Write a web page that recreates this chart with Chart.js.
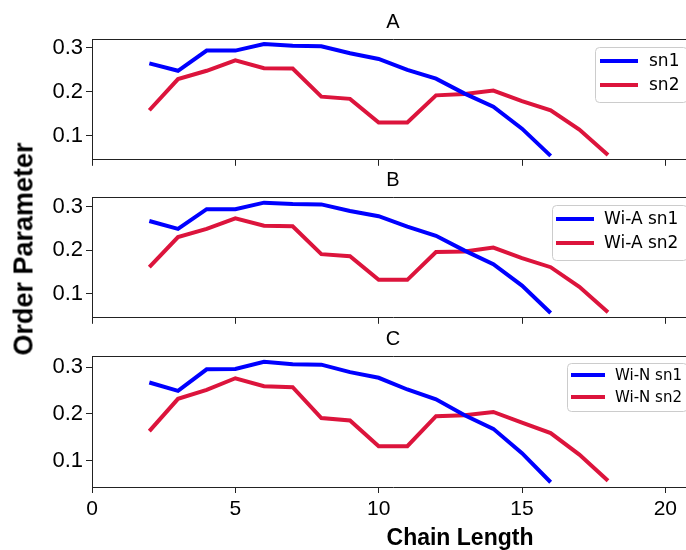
<!DOCTYPE html>
<html>
<head>
<meta charset="utf-8">
<script src="https://cdn.jsdelivr.net/npm/chart.js@4.4.1/dist/chart.umd.min.js"></script>
<style>
html, body { margin: 0; padding: 0; background: #fff; }
#fig { position: relative; width: 686px; height: 550px; overflow: hidden; background: #fff; }
#fig canvas { position: absolute; left: 0; }
.lab { position: absolute; font-family: "Liberation Sans", Arial, sans-serif; font-weight: bold;
       line-height: 1; white-space: nowrap; color: #000; }
</style>
</head>
<body>
<div id="fig">
  <canvas id="panel-a" width="700" height="176" style="top:0px"></canvas>
  <canvas id="panel-b" width="700" height="176" style="top:158px"></canvas>
  <canvas id="panel-c" width="700" height="233" style="top:317px"></canvas>
  <div class="lab" style="left:24px;top:249px;font-size:27px;transform:translate(-50%,-50%) rotate(-90deg)">Order Parameter</div>
  <div class="lab" style="left:460px;top:537px;font-size:23px;transform:translate(-50%,-50%)">Chain Length</div>
</div>
<script>
// carbon positions along the chain
var chainSn1 = [2, 3, 4, 5, 6, 7, 8, 9, 10, 11, 12, 13, 14, 15, 16];
var chainSn2 = [2, 3, 4, 5, 6, 7, 8, 9, 10, 11, 12, 13, 14, 15, 16, 17, 18];

var aSn1 = [0.265, 0.248, 0.294, 0.294, 0.309, 0.305, 0.304, 0.288, 0.275, 0.250, 0.230, 0.196, 0.166, 0.116, 0.054];
var aSn2 = [0.158, 0.229, 0.248, 0.272, 0.254, 0.253, 0.189, 0.184, 0.130, 0.130, 0.192, 0.195, 0.203, 0.179, 0.158, 0.114, 0.056];
var bSn1 = [0.267, 0.249, 0.294, 0.294, 0.309, 0.306, 0.305, 0.290, 0.278, 0.254, 0.233, 0.199, 0.168, 0.119, 0.056];
var bSn2 = [0.161, 0.230, 0.249, 0.273, 0.256, 0.255, 0.191, 0.186, 0.132, 0.132, 0.196, 0.197, 0.206, 0.182, 0.161, 0.116, 0.058];
var cSn1 = [0.267, 0.249, 0.295, 0.296, 0.311, 0.306, 0.305, 0.289, 0.277, 0.252, 0.231, 0.197, 0.168, 0.116, 0.054];
var cSn2 = [0.163, 0.232, 0.251, 0.276, 0.259, 0.257, 0.191, 0.186, 0.131, 0.131, 0.195, 0.197, 0.204, 0.181, 0.159, 0.113, 0.057];

var namesA = ["sn1", "sn2"];
var namesB = ["Wi-A sn1", "Wi-A sn2"];
var namesC = ["Wi-N sn1", "Wi-N sn2"];

var xTicks = [0, 5, 10, 15, 20];
var yTicks = [0.1, 0.2, 0.3];

var blue = "#0000ff";
var red = "#dc143c";
var spine = "#222";
var xTickFont = { family: "'Liberation Sans', Arial, sans-serif", size: 21 };
var yTickFont = { family: "'Liberation Sans', Arial, sans-serif", size: 22 };

function points(xs, ys) {
    return xs.map(function (x, i) { return { x: x, y: ys[i] }; });
}

// top and right spines (left/bottom come from the axes)
var framePlugin = {
    id: "frame",
    afterDraw: function (chart) {
        var a = chart.chartArea, ctx = chart.ctx;
        var t = Math.round(a.top) + 0.5, r = Math.round(a.right) + 0.5;
        ctx.save();
        ctx.strokeStyle = spine;
        ctx.lineWidth = 1;
        ctx.beginPath();
        ctx.moveTo(Math.round(a.left), t);
        ctx.lineTo(r, t);
        ctx.lineTo(r, Math.round(a.bottom));
        ctx.stroke();
        ctx.restore();
    }
};

// legend drawn inside the axes, upper right
var boxLegendPlugin = {
    id: "boxLegend",
    afterDraw: function (chart, args, o) {
        var a = chart.chartArea, ctx = chart.ctx;
        var top = a.top + o.top;
        ctx.save();
        ctx.beginPath();
        ctx.roundRect(o.left + 0.5, top + 0.5, a.right - 7 - o.left, o.height, 4);
        ctx.fillStyle = "rgba(255,255,255,0.85)";
        ctx.fill();
        ctx.strokeStyle = "#cccccc";
        ctx.lineWidth = 1;
        ctx.stroke();
        ctx.font = o.fontSize + "px 'DejaVu Sans'";
        ctx.textBaseline = "middle";
        ctx.fillStyle = "#000";
        chart.data.datasets.forEach(function (ds, i) {
            var y = top + o.firstRow + i * o.rowGap;
            ctx.beginPath();
            ctx.moveTo(o.left + o.pad, y);
            ctx.lineTo(o.left + o.pad + o.lineLen, y);
            ctx.strokeStyle = ds.borderColor;
            ctx.lineWidth = 4;
            ctx.stroke();
            ctx.fillText(ds.label, o.left + o.pad + o.lineLen + o.textGap, y + 1);
        });
        ctx.restore();
    }
};

function makePanel(id, title, names, sn1, sn2, yMin, yMax, legendOpts, isBottom) {
    var xAxisH = isBottom ? 63 : 6;
    return new Chart(document.getElementById(id).getContext("2d"), {
        type: "line",
        data: {
            datasets: [
                { label: names[0], data: points(chainSn1, sn1), borderColor: blue, borderWidth: 4,
                  pointRadius: 0, tension: 0, fill: false },
                { label: names[1], data: points(chainSn2, sn2), borderColor: red, borderWidth: 4,
                  pointRadius: 0, tension: 0, fill: false }
            ]
        },
        options: {
            responsive: false,
            animation: false,
            layout: { padding: { left: 0, right: 6, top: 0, bottom: 0 } },
            plugins: {
                legend: { display: false },
                tooltip: { enabled: false },
                title: {
                    display: true,
                    text: title,
                    fullSize: false,
                    color: "#000",
                    font: { family: "'Liberation Sans', Arial, sans-serif", size: 20, weight: "normal" },
                    padding: { top: 10, bottom: 5 }
                },
                boxLegend: legendOpts
            },
            scales: {
                x: {
                    type: "linear",
                    min: 0,
                    max: 21,
                    afterBuildTicks: function (s) { s.ticks = xTicks.map(function (v) { return { value: v }; }); },
                    afterFit: function (s) { s.height = xAxisH; },
                    grid: { drawOnChartArea: false, tickLength: 6, color: spine, lineWidth: 1 },
                    border: { color: spine, width: 1 },
                    ticks: { display: isBottom, font: xTickFont, color: "#000", padding: 4, maxRotation: 0,
                             callback: function (v) { return String(v); } }
                },
                y: {
                    min: yMin,
                    max: yMax,
                    afterBuildTicks: function (s) { s.ticks = yTicks.map(function (v) { return { value: v }; }); },
                    afterFit: function (s) { s.width = 92; },
                    grid: { drawOnChartArea: false, tickLength: 6, color: spine, lineWidth: 1 },
                    border: { color: spine, width: 1 },
                    ticks: { font: yTickFont, color: "#000", padding: 3,
                             callback: function (v) { return v.toFixed(1); } }
                }
            }
        },
        plugins: [framePlugin, boxLegendPlugin]
    });
}

makePanel("panel-a", "A", namesA, aSn1, aSn2, 0.045, 0.3205,
    { left: 595, top: 8, height: 55, firstRow: 14, rowGap: 24, pad: 5, lineLen: 38, textGap: 11, fontSize: 17 }, false);
makePanel("panel-b", "B", namesB, bSn1, bSn2, 0.045, 0.322,
    { left: 552, top: 8, height: 55, firstRow: 14, rowGap: 24, pad: 4, lineLen: 38, textGap: 10, fontSize: 17 }, false);
makePanel("panel-c", "C", namesC, cSn1, cSn2, 0.0438, 0.3235,
    { left: 567, top: 7, height: 48, firstRow: 12, rowGap: 22, pad: 4, lineLen: 34, textGap: 10, fontSize: 15 }, true);
</script>
</body>
</html>
